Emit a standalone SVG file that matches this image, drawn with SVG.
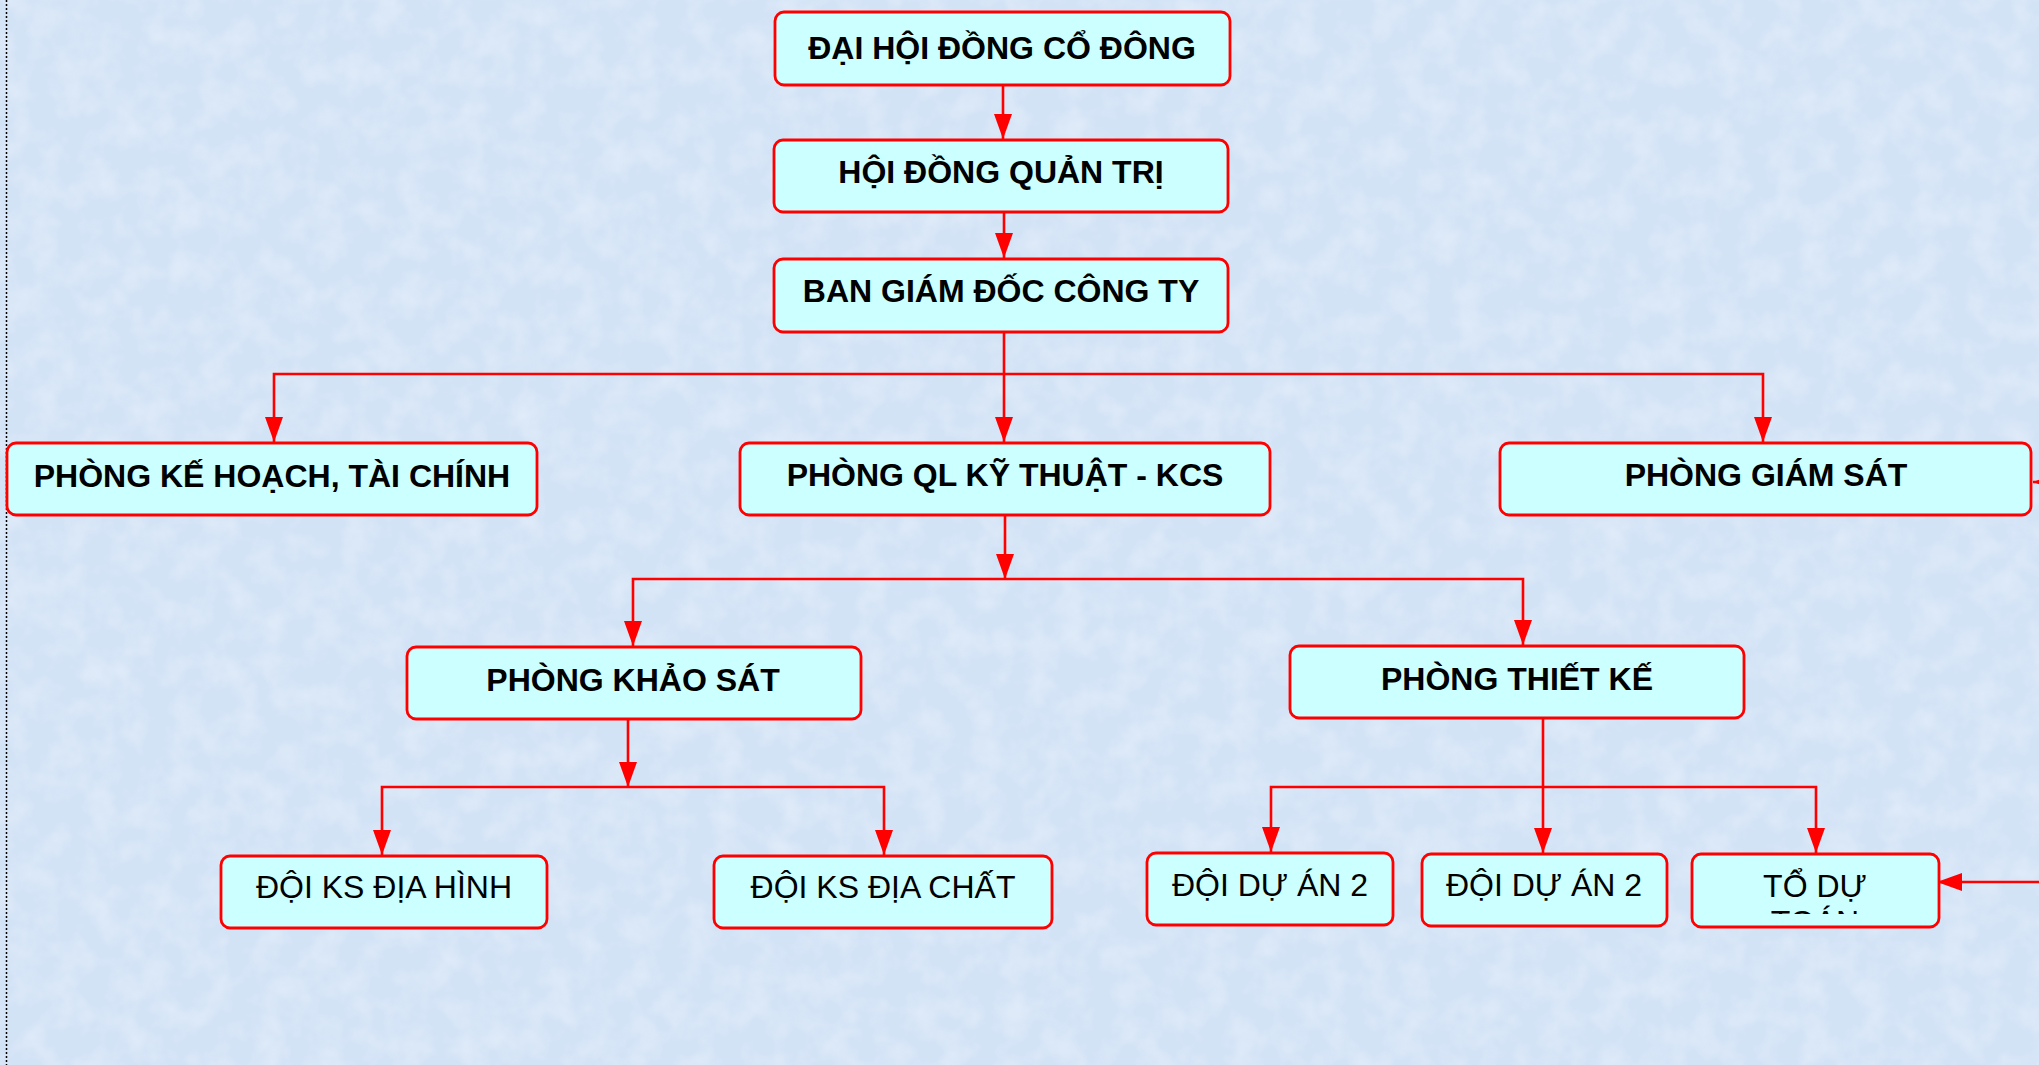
<svg xmlns="http://www.w3.org/2000/svg" width="2039" height="1065" viewBox="0 0 2039 1065">
<style>
.box{fill:#ccffff;stroke:#ff0000;stroke-width:2.8}
.bt{font-family:"Liberation Sans",Arial,sans-serif;font-weight:bold;font-size:32px;fill:#000;text-anchor:middle}
.nt{font-family:"Liberation Sans",Arial,sans-serif;font-size:32px;fill:#000;text-anchor:middle}
.con{fill:none;stroke:#ff0000;stroke-width:2.6}
.ar{marker-end:url(#arr)}
</style>
<defs>
<marker id="arr" markerUnits="userSpaceOnUse" markerWidth="26" markerHeight="18" viewBox="0 0 26 18" refX="25" refY="9" orient="auto">
<path d="M0,0 L25,9 L0,18 z" fill="#ff0000"/>
</marker>
<filter id="tex" x="0" y="0" width="100%" height="100%">
<feTurbulence type="fractalNoise" baseFrequency="0.035" numOctaves="3" seed="7" result="n"/>
<feColorMatrix in="n" type="matrix" values="0 0 0 0 1  0 0 0 0 1  0 0 0 0 1  0 0 0 0.9 -0.35"/>
</filter>
<clipPath id="clipTo"><rect x="1692" y="854" width="247" height="60"/></clipPath>
</defs>
<rect x="0" y="0" width="2039" height="1065" fill="#d3e3f6"/>
<rect x="0" y="0" width="2039" height="1065" filter="url(#tex)" opacity="0.6"/>
<line x1="6.5" y1="0" x2="6.5" y2="1065" stroke="#000" stroke-width="1.5" stroke-dasharray="2 2"/>

<g id="connectors">
<path class="con ar" d="M1003,85 V139"/>
<path class="con ar" d="M1004,212 V258"/>
<path class="con ar" d="M1004,332 V442"/>
<path class="con ar" d="M1004,374 H274 V442"/>
<path class="con ar" d="M1004,374 H1763 V442"/>
<path class="con ar" d="M1005,515 V579"/>
<path class="con ar" d="M1005,579 H633 V646"/>
<path class="con ar" d="M1005,579 H1523 V645"/>
<path class="con ar" d="M628,719 V787"/>
<path class="con ar" d="M628,787 H382 V855"/>
<path class="con ar" d="M628,787 H884 V855"/>
<path class="con ar" d="M1543,718 V853"/>
<path class="con ar" d="M1543,787 H1271 V852"/>
<path class="con ar" d="M1543,787 H1816 V853"/>
<path class="con ar" d="M2080,882 H1937"/>
<path class="con ar" d="M2080,482 H2033"/>
</g>

<g id="n-daihoi"><rect class="box" x="775" y="12" width="455" height="73" rx="9"/><text class="bt" x="1002" y="59">ĐẠI HỘI ĐỒNG CỔ ĐÔNG</text></g>
<g id="n-hdqt"><rect class="box" x="774" y="140" width="454" height="72" rx="9"/><text class="bt" x="1001" y="183">HỘI ĐỒNG QUẢN TRỊ</text></g>
<g id="n-bgd"><rect class="box" x="774" y="259" width="454" height="73" rx="9"/><text class="bt" x="1001" y="302">BAN GIÁM ĐỐC CÔNG TY</text></g>
<g id="n-khtc"><rect class="box" x="7" y="443" width="530" height="72" rx="9"/><text class="bt" x="272" y="487">PHÒNG KẾ HOẠCH, TÀI CHÍNH</text></g>
<g id="n-qlkt"><rect class="box" x="740" y="443" width="530" height="72" rx="9"/><text class="bt" x="1005" y="486">PHÒNG QL KỸ THUẬT - KCS</text></g>
<g id="n-gs"><rect class="box" x="1500" y="443" width="531" height="72" rx="9"/><text class="bt" x="1766" y="486">PHÒNG GIÁM SÁT</text></g>
<g id="n-ks"><rect class="box" x="407" y="647" width="454" height="72" rx="9"/><text class="bt" x="633" y="691">PHÒNG KHẢO SÁT</text></g>
<g id="n-tk"><rect class="box" x="1290" y="646" width="454" height="72" rx="9"/><text class="bt" x="1517" y="690">PHÒNG THIẾT KẾ</text></g>
<g id="n-ksdh"><rect class="box" x="221" y="856" width="326" height="72" rx="9"/><text class="nt" x="384" y="898">ĐỘI KS ĐỊA HÌNH</text></g>
<g id="n-ksdc"><rect class="box" x="714" y="856" width="338" height="72" rx="9"/><text class="nt" x="883" y="898">ĐỘI KS ĐỊA CHẤT</text></g>
<g id="n-da1"><rect class="box" x="1147" y="853" width="246" height="72" rx="9"/><text class="nt" x="1270" y="896">ĐỘI DỰ ÁN 2</text></g>
<g id="n-da2"><rect class="box" x="1422" y="854" width="245" height="72" rx="9"/><text class="nt" x="1544" y="896">ĐỘI DỰ ÁN 2</text></g>
<g id="n-todt"><rect class="box" x="1692" y="854" width="247" height="73" rx="9"/><text class="nt" x="1815" y="897" clip-path="url(#clipTo)"><tspan x="1815" y="897">TỔ DỰ</tspan><tspan x="1815" y="933">TOÁN</tspan></text></g>
</svg>
